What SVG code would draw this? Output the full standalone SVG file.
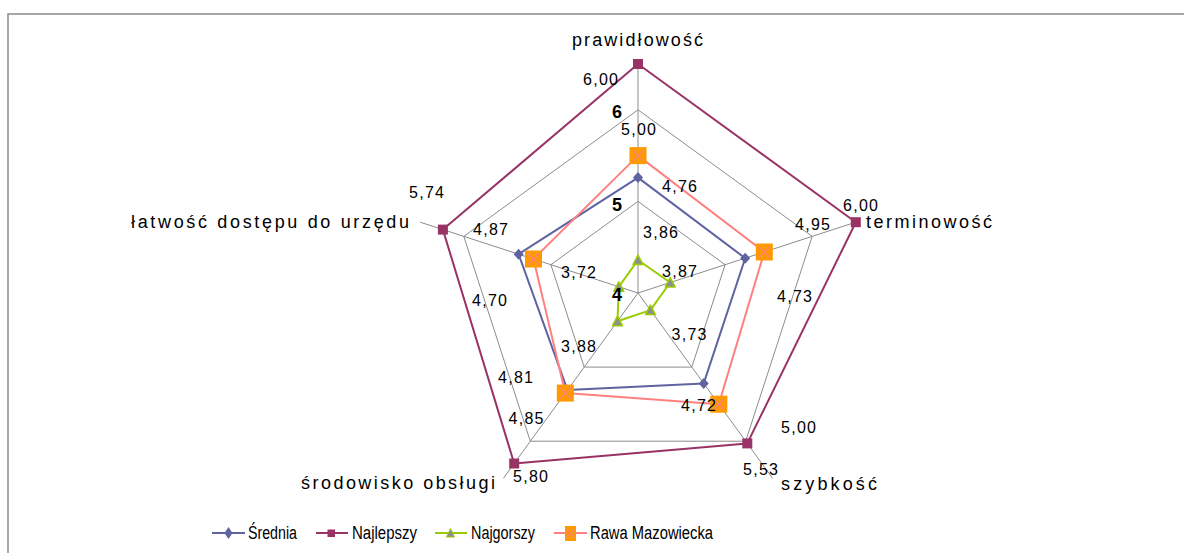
<svg xmlns="http://www.w3.org/2000/svg" width="1184" height="553" viewBox="0 0 1184 553">
<style>
  .grid{fill:none;stroke:#8C8C8C;stroke-width:1}
  .s1{fill:none;stroke:#5F63A0;stroke-width:2;stroke-linejoin:round}
  .s2{fill:none;stroke:#993366;stroke-width:2;stroke-linejoin:round}
  .s3{fill:none;stroke:#99CC00;stroke-width:2;stroke-linejoin:round}
  .s4{fill:none;stroke:#FF8080;stroke-width:2;stroke-linejoin:round}
  text{font-family:"Liberation Sans",Arial,sans-serif;fill:#000}
  .dl{font-size:16px}
  .cat{font-size:18px}
  .ax{font-size:18px;font-weight:bold}
  .lg{font-size:18px}
</style>
<defs>
  <path id="m-dia" d="M0,-5.5 L5,0 L0,5.5 L-5,0 Z" fill="#5F63A0"/>
  <rect id="m-sq" x="-5" y="-5" width="10" height="10" fill="#993366"/>
  <path id="m-tri" d="M0,-5 L5,4.5 L-5,4.5 Z" fill="#8E8E8E" stroke="#99CC00" stroke-width="1.5" stroke-linejoin="round"/>
  <g id="m-or">
    <rect x="-8.5" y="-8.5" width="17" height="17" fill="#FF9900"/>
    <path d="M-5.5,-5.5 L5.5,5.5 M5.5,-5.5 L-5.5,5.5" stroke="#FF8080" stroke-width="1.3"/>
  </g>
</defs>
<rect width="1184" height="553" fill="#FFFFFF"/>
<path d="M8,553 V14 H1184" fill="none" stroke="#8A8A8A" stroke-width="1.5"/>

<g id="grid">
  <path class="grid" d="M638,293 L638,64 M638,293 L855.8,222.2 M638,293 L772.6,478.3 M638,293 L503.4,478.3 M638,293 L420.2,222.2"/>
  <polygon class="grid" points="638,201.4 725.1,264.7 691.8,367.1 584.2,367.1 550.9,264.7"/>
  <polygon class="grid" points="638,109.8 812.2,236.4 745.7,441.2 530.3,441.2 463.8,236.4"/>
</g>

<g id="series-srednia">
  <polygon class="s1" points="638,177.6 745.2,258.2 703.7,383.4 567.5,390.1 518.6,254.2"/>
  <use href="#m-dia" x="638" y="177.6"/>
  <use href="#m-dia" x="745.2" y="258.2"/>
  <use href="#m-dia" x="703.7" y="383.4"/>
  <use href="#m-dia" x="567.5" y="390.1"/>
  <use href="#m-dia" x="518.6" y="254.2"/>
</g>
<g id="series-najlepszy">
  <polygon class="s2" points="638,64 855.8,222.2 747.3,443.4 514.2,463.5 442.9,229.6"/>
  <use href="#m-sq" x="638" y="64"/>
  <use href="#m-sq" x="855.8" y="222.2"/>
  <use href="#m-sq" x="747.3" y="443.4"/>
  <use href="#m-sq" x="514.2" y="463.5"/>
  <use href="#m-sq" x="442.9" y="229.6"/>
</g>
<g id="series-najgorszy">
  <polygon class="s3" points="638,260 670.2,282.5 650.4,310.1 617.5,321.2 618.8,286.8"/>
  <use href="#m-tri" x="638" y="260"/>
  <use href="#m-tri" x="670.2" y="282.5"/>
  <use href="#m-tri" x="650.4" y="310.1"/>
  <use href="#m-tri" x="617.5" y="321.2"/>
  <use href="#m-tri" x="618.8" y="286.8"/>
</g>
<g id="series-rawa">
  <polygon class="s4" points="638,155.6 764.3,252 718.8,404.2 565.3,393.1 533.5,259"/>
  <use href="#m-or" x="638" y="155.6"/>
  <use href="#m-or" x="764.3" y="252"/>
  <use href="#m-or" x="718.8" y="404.2"/>
  <use href="#m-or" x="565.3" y="393.1"/>
  <use href="#m-or" x="533.5" y="259"/>
</g>

<g id="axis-labels">
  <text class="ax" x="612" y="118">6</text>
  <text class="ax" x="612" y="211">5</text>
  <text class="ax" x="612" y="301">4</text>
</g>

<g id="category-labels">
  <text class="cat" x="572" y="46" textLength="131" lengthAdjust="spacing">prawidłowość</text>
  <text class="cat" x="866" y="228" textLength="126" lengthAdjust="spacing">terminowość</text>
  <text class="cat" x="781" y="490" textLength="96" lengthAdjust="spacing">szybkość</text>
  <text class="cat" x="301" y="489" textLength="194" lengthAdjust="spacing">środowisko obsługi</text>
  <text class="cat" x="131" y="228" textLength="278" lengthAdjust="spacing">łatwość dostępu do urzędu</text>
</g>

<g id="data-labels">
  <text class="dl" x="583" y="85" textLength="35">6,00</text>
  <text class="dl" x="621" y="135" textLength="35">5,00</text>
  <text class="dl" x="662" y="191.5" textLength="35">4,76</text>
  <text class="dl" x="643" y="237.5" textLength="35">3,86</text>
  <text class="dl" x="843" y="210.5" textLength="35">6,00</text>
  <text class="dl" x="795" y="230" textLength="35">4,95</text>
  <text class="dl" x="662" y="277" textLength="35">3,87</text>
  <text class="dl" x="777" y="301.5" textLength="35">4,73</text>
  <text class="dl" x="671.5" y="340" textLength="35">3,73</text>
  <text class="dl" x="681" y="411" textLength="35">4,72</text>
  <text class="dl" x="781" y="433" textLength="35">5,00</text>
  <text class="dl" x="743" y="475" textLength="35">5,53</text>
  <text class="dl" x="561" y="352" textLength="35">3,88</text>
  <text class="dl" x="498" y="383" textLength="35">4,81</text>
  <text class="dl" x="508.5" y="424" textLength="35">4,85</text>
  <text class="dl" x="513" y="481.5" textLength="35">5,80</text>
  <text class="dl" x="409" y="198" textLength="35">5,74</text>
  <text class="dl" x="473" y="235" textLength="35">4,87</text>
  <text class="dl" x="472" y="306" textLength="35">4,70</text>
  <text class="dl" x="561" y="278" textLength="35">3,72</text>
</g>

<g id="legend">
  <g id="legend-srednia">
    <line x1="212" y1="533" x2="245" y2="533" stroke="#5F63A0" stroke-width="2"/>
    <path d="M228.5,527 L232.5,533 L228.5,539 L224.5,533 Z" fill="#5F63A0"/>
    <text class="lg" x="248" y="539" textLength="49" lengthAdjust="spacingAndGlyphs">Średnia</text>
  </g>
  <g id="legend-najlepszy">
    <line x1="316" y1="533" x2="348" y2="533" stroke="#993366" stroke-width="2"/>
    <rect x="327.5" y="529.5" width="7.5" height="7.5" fill="#993366"/>
    <text class="lg" x="352" y="539" textLength="65" lengthAdjust="spacingAndGlyphs">Najlepszy</text>
  </g>
  <g id="legend-najgorszy">
    <line x1="435" y1="533" x2="467" y2="533" stroke="#99CC00" stroke-width="2"/>
    <path d="M450.5,528.5 L454.5,537 L446.5,537 Z" fill="#8E8E8E" stroke="#99CC00" stroke-width="1"/>
    <text class="lg" x="471" y="539" textLength="64" lengthAdjust="spacingAndGlyphs">Najgorszy</text>
  </g>
  <g id="legend-rawa">
    <line x1="554" y1="533" x2="587" y2="533" stroke="#FF8080" stroke-width="2"/>
    <rect x="565" y="526" width="11" height="15" fill="#FF9900"/>
    <path d="M566.5,529 L574.5,537.5 M574.5,529 L566.5,537.5" stroke="#FF8080" stroke-width="1.2"/>
    <text class="lg" x="590" y="539" textLength="123" lengthAdjust="spacingAndGlyphs">Rawa Mazowiecka</text>
  </g>
</g>
</svg>
